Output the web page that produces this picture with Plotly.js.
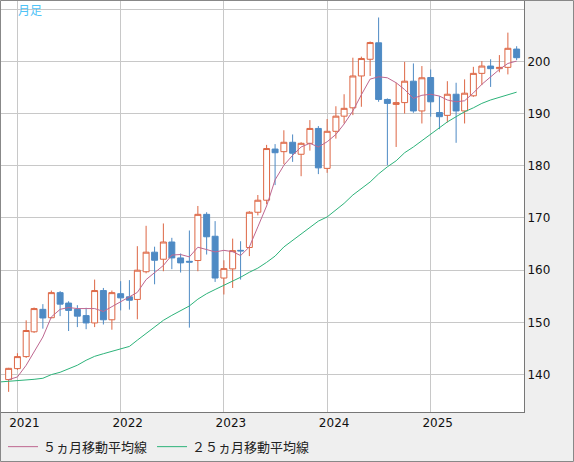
<!DOCTYPE html>
<html><head><meta charset="utf-8">
<script src="https://cdn.plot.ly/plotly-3.0.1.min.js"></script>
<style>html,body{margin:0;padding:0;background:#efefef;}#chart{width:574px;height:462px;}</style>
</head><body><div id="chart"></div>
<script>
const months = ['2020-12-01',
'2021-01-01','2021-02-01','2021-03-01','2021-04-01','2021-05-01','2021-06-01','2021-07-01','2021-08-01','2021-09-01','2021-10-01','2021-11-01','2021-12-01',
'2022-01-01','2022-02-01','2022-03-01','2022-04-01','2022-05-01','2022-06-01','2022-07-01','2022-08-01','2022-09-01','2022-10-01','2022-11-01','2022-12-01',
'2023-01-01','2023-02-01','2023-03-01','2023-04-01','2023-05-01','2023-06-01','2023-07-01','2023-08-01','2023-09-01','2023-10-01','2023-11-01','2023-12-01',
'2024-01-01','2024-02-01','2024-03-01','2024-04-01','2024-05-01','2024-06-01','2024-07-01','2024-08-01','2024-09-01','2024-10-01','2024-11-01','2024-12-01',
'2025-01-01','2025-02-01','2025-03-01','2025-04-01','2025-05-01','2025-06-01','2025-07-01','2025-08-01','2025-09-01','2025-10-01','2025-11-01'];

const openP = [139.05,
141.15,143.45,148.2,152.5,150.9,155.7,153.7,152.5,151.3,149.9,156.1,150.5,
155.5,154.9,154.4,159.7,163.45,162.1,165.4,162.35,161.7,161.85,170.7,166.5,
158.5,160.25,163.8,164.35,171.1,173.4,183.2,182.7,184.5,182.2,184.3,187.15,
179.5,186.6,189.5,191.1,197.2,200.4,203.55,192.7,191.75,192.1,196.2,190.5,
196.9,190.2,189.65,193.7,190.5,193.4,197.7,199.1,198.6,198.85,202.35];
const highP = [141.3,
144.1,150.4,152.85,153.5,156.1,156.0,154.05,153.3,152.8,158.2,156.6,156.1,
157.9,158.1,164.6,168.5,164.5,168.95,166.2,163.2,167.6,172.3,171.1,169.4,
161.9,166.05,165.55,171.3,174.4,184.0,184.15,186.8,186.0,184.5,188.75,187.6,
188.95,191.4,193.7,200.7,200.9,203.8,208.4,192.9,195.9,199.9,199.6,199.1,
198.45,193.35,196.2,195.9,196.55,198.95,200.05,200.4,201.2,205.5,202.9];
const lowP = [136.7,
140.9,143.2,148.0,148.8,150.8,151.2,148.35,149.1,148.7,149.1,149.6,148.6,
152.3,152.45,150.6,159.4,157.3,159.8,160.2,159.55,149.0,159.8,163.0,157.75,
155.35,156.6,158.2,162.7,170.5,172.65,176.3,180.3,180.75,178.0,182.9,178.4,
178.65,185.2,188.1,189.7,191.3,197.2,192.25,180.1,183.6,190.0,190.15,188.1,
189.4,187.0,188.3,184.4,188.1,193.2,195.45,195.1,197.9,197.5,200.25];
const closeP = [141.2,
143.45,148.45,152.65,150.85,155.7,153.5,152.3,151.2,149.9,156.1,150.5,155.7,
154.7,154.25,160.0,163.45,161.9,165.4,162.35,161.4,161.55,170.7,166.4,158.5,
160.3,163.75,163.7,171.1,173.4,183.3,182.5,184.5,182.4,184.3,187.15,179.6,
186.6,189.5,191.0,197.2,200.55,203.6,192.7,191.95,192.1,196.2,190.5,196.85,
192.25,189.4,193.7,190.5,193.9,197.7,199.1,198.6,198.85,202.5,200.7];

const ma5 = [139.05,
139.55,141.8,144.35,147.2,151.05,152.5,152.85,152.65,152.65,152.65,152.1,153.0,
154.0,154.8,155.75,158.2,159.45,160.9,162.9,163.0,162.55,164.4,163.95,163.5,
163.8,163.55,162.8,164.45,168.3,172.3,177.3,180.1,182.0,183.6,184.3,183.6,
184.6,186.0,188.0,190.5,193.6,196.6,197.05,196.85,195.9,194.6,192.9,193.5,
193.7,193.35,192.6,192.25,192.45,193.95,195.6,197.05,198.45,199.6,200.05];

const ma25Months = ['2020-11-01'].concat(months);
const ma25 = [138.6, 138.7,
138.9,139.0,139.1,139.3,140.0,140.45,141.15,141.8,142.75,143.5,144.0,144.45,
144.95,145.4,146.6,147.85,149.1,150.4,151.35,152.2,153.15,154.45,155.5,156.3,
157.1,157.9,158.65,159.6,160.4,161.5,162.7,164.45,165.7,167.0,168.3,169.4,
170.2,171.5,172.8,174.4,175.65,176.9,178.45,179.8,180.95,182.5,183.6,184.8,
185.9,187.15,188.4,189.4,190.35,191.1,191.95,192.6,193.1,193.7,194.1];

const yTickVals = [140,150,160,170,180,190,200,210];
const yTickText = ['140','150','160','170','180','190','200',''];
const yearTicks = ['2021-01-01','2022-01-01','2023-01-01','2024-01-01','2025-01-01'];
const yearLabels = ['2021','2022','2023','2024','2025'];
const legendNames = ['５ヵ月移動平均線','２５ヵ月移動平均線'];
const chartLabel = '月足';

const traces = [
  {type:'candlestick', x:months, open:openP, high:highP, low:lowP, close:closeP,
   increasing:{line:{color:'#dd6644', width:1}, fillcolor:'#ffffff'},
   decreasing:{line:{color:'#4e8ac4', width:1}, fillcolor:'#4e8ac4'},
   whiskerwidth:0, showlegend:false, hoverinfo:'skip'},
  {type:'scatter', mode:'lines', x:months, y:ma5, name:legendNames[0],
   line:{color:'#be6790', width:1}, hoverinfo:'skip'},
  {type:'scatter', mode:'lines', x:ma25Months, y:ma25, name:legendNames[1],
   line:{color:'#2db37a', width:1}, hoverinfo:'skip'}
];

const PW = 523, PH = 412;
const layout = {
  width:574, height:462,
  margin:{l:1, r:50, t:0, b:50, pad:0},
  paper_bgcolor:'#efefef', plot_bgcolor:'#ffffff',
  boxgap:0.25, boxgroupgap:0,
  showlegend:true,
  xaxis:{type:'date', range:['2020-11-04','2025-11-27'], tickmode:'array',
    tickvals:yearTicks, ticktext:yearLabels, showgrid:true, gridcolor:'#c8c8c8', gridwidth:1,
    zeroline:false, showline:true, linecolor:'#777777', linewidth:1, ticks:'',
    ticklabelshift:7, tickfont:{family:'DejaVu Sans', size:12, color:'#111111'},
    rangeslider:{visible:false}, fixedrange:true},
  yaxis:{side:'right', range:[132.84, 211.75], tickmode:'array', tickvals:yTickVals, ticktext:yTickText,
    showgrid:true, gridcolor:'#c8c8c8', gridwidth:1, zeroline:false, showline:true,
    linecolor:'#777777', linewidth:1, ticks:'',
    tickfont:{family:'DejaVu Sans', size:12, color:'#111111'}, fixedrange:true},
  legend:{orientation:'h', x:(3-1)/PW, y:(PH-446.7)/PH, xanchor:'left', yanchor:'middle',
    font:{family:'Noto Sans CJK JP', size:13, color:'#222222'}, bgcolor:'rgba(0,0,0,0)',
    borderwidth:0},
  annotations:[{text:chartLabel, xref:'paper', yref:'paper', x:(16-1)/PW, y:(PH-10)/PH,
    xanchor:'left', yanchor:'middle', showarrow:false,
    font:{family:'Noto Sans CJK JP', size:12, color:'#4fc3f7'}}],
  shapes:[{type:'rect', xref:'paper', yref:'paper', x0:(0.5-1)/PW, x1:(573.5-1)/PW,
    y0:(PH-461.5)/PH, y1:(PH-0.5)/PH, line:{color:'#888888', width:1}, layer:'above'}]
};
Plotly.newPlot('chart', traces, layout, {staticPlot:true, displayModeBar:false});
</script></body></html>
